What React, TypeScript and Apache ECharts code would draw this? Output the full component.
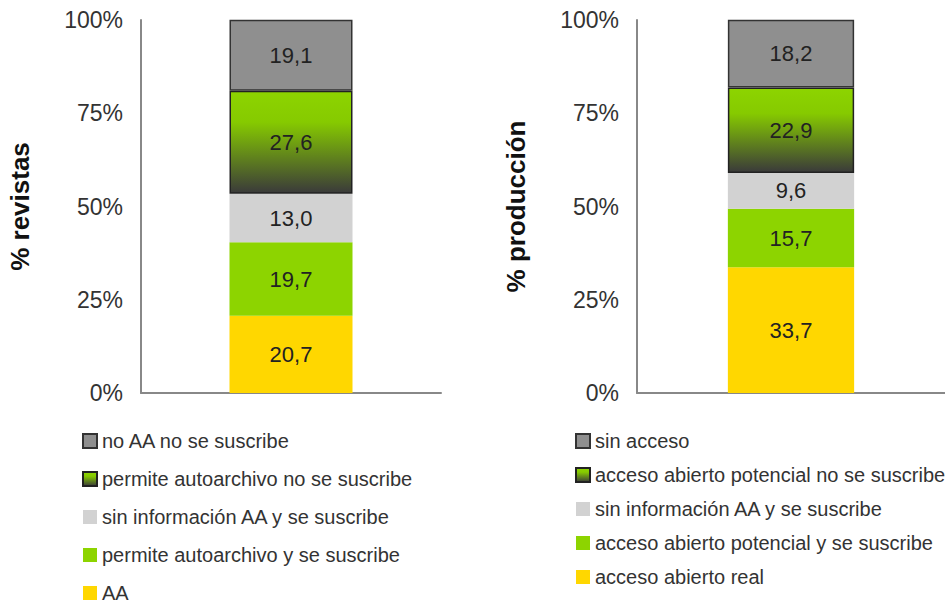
import React, { useEffect, useRef } from "react";
import * as echarts from "echarts";

const yTicks = [0, 25, 50, 75, 100];

const leftNames = [
  "AA",
  "permite autoarchivo y se suscribe",
  "sin información AA y se suscribe",
  "permite autoarchivo no se suscribe",
  "no AA no se suscribe",
];
const leftValues = [20.7, 19.7, 13.0, 27.6, 19.1];

const rightNames = [
  "acceso abierto real",
  "acceso abierto potencial y se suscribe",
  "sin información AA y se suscribe",
  "acceso abierto potencial no se suscribe",
  "sin acceso",
];
const rightValues = [33.7, 15.7, 9.6, 22.9, 18.2];

const FONT = "'Liberation Sans', Arial, Helvetica, sans-serif";

const gradient = () =>
  new echarts.graphic.LinearGradient(0, 0, 0, 1, [
    { offset: 0, color: "#8DD400" },
    { offset: 0.3, color: "#86CA00" },
    { offset: 1, color: "#3A3A3A" },
  ]);

const styles = () => [
  { color: "#FFD700" },
  { color: "#8DD400" },
  { color: "#D2D2D2" },
  { color: gradient(), borderColor: "#222222", borderWidth: 1.5 },
  { color: "#8F8F8F", borderColor: "#333333", borderWidth: 1.5 },
];

export default function App() {
  const ref = useRef<HTMLDivElement>(null);
  useEffect(() => {
    if (!ref.current) return;
    const chart = echarts.init(ref.current, null, { renderer: "svg" });
    const st = styles();
    const mkSeries = (names: string[], values: number[], idx: number) =>
      names.map((n, i) => ({
        name: n,
        type: "bar",
        stack: "s" + idx,
        xAxisIndex: idx,
        yAxisIndex: idx,
        barWidth: "41%",
        data: [values[i]],
        itemStyle: st[i],
        label: {
          show: true,
          position: "inside",
          fontSize: 22,
          color: "#222",
          fontFamily: FONT,
          formatter: (p: any) => p.value.toFixed(1).replace(".", ","),
        },
      }));
    const yAxis = (name: string, idx: number) => ({
      type: "value",
      gridIndex: idx,
      min: yTicks[0],
      max: yTicks[yTicks.length - 1],
      interval: 25,
      name,
      nameLocation: "middle",
      nameGap: 108,
      nameTextStyle: { fontSize: 26, fontWeight: "bold", color: "#111", fontFamily: FONT },
      axisLine: { show: true, lineStyle: { color: "#888", width: 2 } },
      axisTick: { show: false },
      splitLine: { show: false },
      axisLabel: {
        fontSize: 23,
        color: "#333",
        margin: 18,
        fontFamily: FONT,
        formatter: "{value}%",
      },
    });
    const xAxis = (idx: number) => ({
      type: "category",
      gridIndex: idx,
      data: [""],
      axisLine: { show: true, lineStyle: { color: "#888", width: 2 } },
      axisTick: { show: false },
      axisLabel: { show: false },
    });
    const legend = (names: string[], left: number, gap: number) => ({
      orient: "vertical",
      left,
      top: 431,
      height: 175,
      padding: 0,
      itemWidth: 14,
      itemHeight: 14,
      itemGap: gap,
      icon: "rect",
      selectedMode: false,
      textStyle: { fontSize: 20, color: "#333", fontFamily: FONT },
      data: names.slice().reverse(),
    });
    chart.setOption({
      animation: false,
      backgroundColor: "#fff",
      grid: [
        { left: 141, top: 20, width: 300, height: 373 },
        { left: 637, top: 20, width: 308, height: 373 },
      ],
      xAxis: [xAxis(0), xAxis(1)],
      yAxis: [yAxis("% revistas", 0), yAxis("% producción", 1)],
      legend: [legend(leftNames, 82, 18), legend(rightNames, 575, 14)],
      series: [...mkSeries(leftNames, leftValues, 0), ...mkSeries(rightNames, rightValues, 1)],
    });
    return () => chart.dispose();
  }, []);
  return <div ref={ref} style={{ width: 945, height: 606, position: "absolute", left: 0, top: 0 }} />;
}
